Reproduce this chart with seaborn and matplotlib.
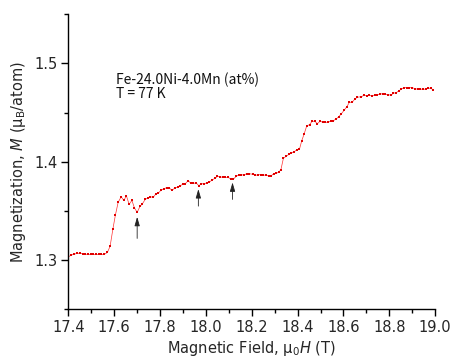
import matplotlib
matplotlib.use("Agg")
import matplotlib.pyplot as plt
import seaborn as sns
import pandas as pd
from matplotlib.ticker import MultipleLocator

field_T = [17.400, 17.412, 17.425, 17.438, 17.451, 17.463, 17.474, 17.486, 17.498, 17.509,
           17.521, 17.533, 17.544, 17.556, 17.570, 17.582, 17.594, 17.605, 17.617, 17.630,
           17.642, 17.653, 17.665, 17.677, 17.688, 17.700, 17.712, 17.723, 17.735, 17.746,
           17.758, 17.770, 17.781, 17.793, 17.804, 17.816, 17.828, 17.839, 17.852, 17.864,
           17.876, 17.887, 17.899, 17.910, 17.922, 17.934, 17.945, 17.957, 17.969, 17.980,
           17.992, 18.004, 18.015, 18.027, 18.039, 18.050, 18.062, 18.074, 18.085, 18.097,
           18.109, 18.120, 18.132, 18.143, 18.155, 18.167, 18.178, 18.190, 18.205, 18.216,
           18.228, 18.239, 18.251, 18.263, 18.274, 18.286, 18.295, 18.306, 18.317, 18.327,
           18.338, 18.350, 18.362, 18.373, 18.385, 18.396, 18.408, 18.418, 18.428, 18.440,
           18.452, 18.463, 18.475, 18.486, 18.498, 18.510, 18.521, 18.533, 18.545, 18.556,
           18.568, 18.580, 18.591, 18.603, 18.615, 18.626, 18.638, 18.650, 18.661, 18.678,
           18.690, 18.702, 18.713, 18.725, 18.737, 18.748, 18.760, 18.772, 18.783, 18.795,
           18.807, 18.818, 18.830, 18.842, 18.853, 18.865, 18.876, 18.888, 18.900, 18.911,
           18.923, 18.935, 18.946, 18.958, 18.969, 18.981, 18.992]
magnetization = [1.3034, 1.3051, 1.3061, 1.3068, 1.3071, 1.3066, 1.3061, 1.3058, 1.3058, 1.3058,
                 1.3058, 1.3058, 1.3058, 1.3058, 1.3078, 1.3142, 1.3315, 1.3458, 1.3587, 1.3644,
                 1.3607, 1.3654, 1.3567, 1.3607, 1.3532, 1.3485, 1.3546, 1.3573, 1.3617, 1.3631,
                 1.3644, 1.3638, 1.3671, 1.3682, 1.3712, 1.3725, 1.3736, 1.3736, 1.3709, 1.3732,
                 1.3743, 1.3756, 1.3770, 1.3776, 1.3807, 1.3783, 1.3780, 1.3786, 1.3756, 1.3776,
                 1.3776, 1.3786, 1.3793, 1.3814, 1.3831, 1.3851, 1.3847, 1.3841, 1.3841, 1.3841,
                 1.3824, 1.3824, 1.3851, 1.3865, 1.3865, 1.3868, 1.3878, 1.3878, 1.3872, 1.3862,
                 1.3868, 1.3868, 1.3865, 1.3862, 1.3855, 1.3860, 1.3878, 1.3882, 1.3892, 1.3919,
                 1.4035, 1.4055, 1.4075, 1.4088, 1.4102, 1.4119, 1.4126, 1.4214, 1.4279, 1.4366,
                 1.4376, 1.4411, 1.4411, 1.4387, 1.4411, 1.4401, 1.4401, 1.4401, 1.4414, 1.4417,
                 1.4434, 1.4458, 1.4488, 1.4523, 1.4560, 1.4604, 1.4604, 1.4638, 1.4655, 1.4661,
                 1.4675, 1.4671, 1.4675, 1.4668, 1.4675, 1.4682, 1.4686, 1.4692, 1.4686, 1.4682,
                 1.4675, 1.4696, 1.4702, 1.4719, 1.4740, 1.4753, 1.4753, 1.4753, 1.4753, 1.4743,
                 1.4737, 1.4737, 1.4737, 1.4737, 1.4747, 1.4747, 1.4729]

arrow_field = [17.700, 17.967, 18.116]
arrow_tail = [1.3221, 1.3549, 1.3617]
arrow_head = [1.3440, 1.3722, 1.3790]

x_ticks = [17.4, 17.6, 17.8, 18.0, 18.2, 18.4, 18.6, 18.8, 19.0]
y_ticks = [1.3, 1.4, 1.5]

sns.set_theme(style="ticks")
plt.rcParams['font.family'] = ['DejaVu Sans']
plt.rcParams['mathtext.fontset'] = 'dejavusans'

df = pd.DataFrame({"H": field_T, "M": magnetization})

fig = plt.figure(figsize=(4.5, 3.61), dpi=100)
ax = fig.add_axes([0.152, 0.143, 0.815, 0.818])

sns.lineplot(data=df, x="H", y="M", ax=ax, color="#ff3030", linewidth=0.5,
             marker="s", markersize=1.9, markeredgewidth=0, markerfacecolor="#e00000",
             sort=False)

for xa, yt, yh in zip(arrow_field, arrow_tail, arrow_head):
    ax.annotate("", xy=(xa, yh), xytext=(xa, yt),
                arrowprops=dict(arrowstyle="-|>,head_length=0.45,head_width=0.13",
                                color="#222222", lw=0.6, shrinkA=0, shrinkB=0))

ax.set_xlim(17.4, 19.0)
ax.set_ylim(1.25, 1.55)
ax.set_xticks(x_ticks)
ax.set_yticks(y_ticks)
ax.set_xticklabels([f"{v:.1f}" for v in x_ticks])
ax.set_yticklabels([f"{v:.1f}" for v in y_ticks])
ax.xaxis.set_minor_locator(MultipleLocator(0.1))
ax.yaxis.set_minor_locator(MultipleLocator(0.05))
ax.tick_params(which="major", direction="out", length=5, width=1, labelsize=10.5,
               color="black", pad=2.5)
ax.tick_params(which="minor", direction="out", length=3, width=1, color="black")
for s in ["left", "bottom"]:
    ax.spines[s].set_color("black")
    ax.spines[s].set_linewidth(1)
sns.despine(ax=ax)

ax.set_xlabel("Magnetic Field, μ$_0$$H$ (T)", fontsize=10.5, labelpad=3)
ax.set_ylabel("Magnetization, $M$ (μ$_\\mathrm{B}$/atom)", fontsize=10.5, labelpad=5)

ax.text(17.608, 1.4765, "Fe-24.0Ni-4.0Mn (at%)\nT = 77 K", fontsize=10.0,
        family=['Noto Sans CJK JP', 'DejaVu Sans'], va="center", ha="left",
        linespacing=1.0, color="#111111")

fig.savefig("out.png", dpi=100)
